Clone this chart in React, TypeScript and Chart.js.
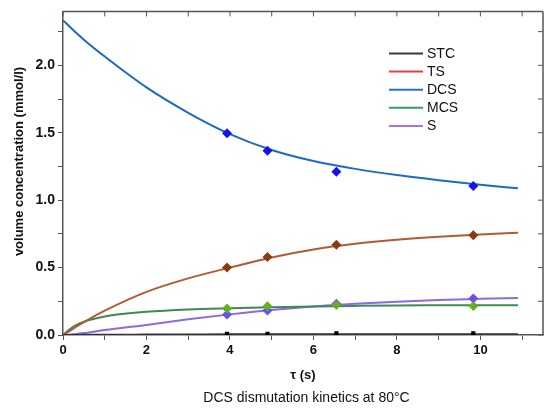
import React, { useEffect, useRef } from "react";
import { Chart, registerables } from "chart.js";

Chart.register(...registerables);

const curveX = [0, 0.25, 0.5, 1, 2, 3, 4, 5, 6, 7, 8, 9, 10, 10.9];
const dcsCurve = [2.335, 2.26, 2.19, 2.065, 1.836, 1.648, 1.49, 1.372, 1.29, 1.232, 1.186, 1.148, 1.114, 1.088];
const tsCurve = [0, 0.048, 0.095, 0.18, 0.32, 0.42, 0.5, 0.575, 0.634, 0.676, 0.706, 0.728, 0.745, 0.758];
const mcsCurve = [0, 0.062, 0.098, 0.138, 0.172, 0.19, 0.199, 0.206, 0.212, 0.216, 0.219, 0.22, 0.221, 0.221];
const sCurve = [0, 0.006, 0.014, 0.037, 0.075, 0.116, 0.153, 0.186, 0.212, 0.232, 0.247, 0.259, 0.268, 0.275];
const stcCurve = [0, 0.0005, 0.001, 0.002, 0.003, 0.004, 0.005, 0.005, 0.006, 0.006, 0.006, 0.006, 0.006, 0.006];

const sampleX = [3.93, 4.9, 6.55, 9.83];
const dcsPts = [1.497, 1.366, 1.21, 1.105];
const tsPts = [0.5, 0.578, 0.669, 0.74];
const mcsPts = [0.197, 0.214, 0.222, 0.216];
const sPts = [0.152, 0.182, 0.231, 0.27];
const stcPts = [0.008, 0.008, 0.012, 0.012];

const legendNames = ["STC", "TS", "DCS", "MCS", "S"];
const legendColors = ["#3a3a3a", "#e84040", "#2a6fd0", "#2ca065", "#b070e0"];

const xTicks = [0, 1, 2, 3, 4, 5, 6, 7, 8, 9, 10, 11];
const yTicks = [0, 0.25, 0.5, 0.75, 1, 1.25, 1.5, 1.75, 2, 2.25];

const yTitle = "volume concentration (mmol/l)";
const xTitle = "\u03c4 (s)";
const caption = "DCS dismutation kinetics at 80\u00b0C";

const FONT = "'Liberation Sans', Arial, sans-serif";

const zip = (xs: number[], ys: number[]) => xs.map((x, i) => ({ x, y: ys[i] }));

const lineDs = (label: string, ys: number[], color: string) => ({
  label,
  data: zip(curveX, ys),
  showLine: true,
  borderColor: color,
  backgroundColor: color,
  borderWidth: 2,
  pointRadius: 0,
  cubicInterpolationMode: "monotone" as const,
  fill: false,
});

const ptDs = (label: string, ys: number[], color: string, style: string, r: number) => ({
  label,
  data: zip(sampleX, ys),
  showLine: false,
  pointStyle: style,
  pointRadius: r,
  borderWidth: 0,
  backgroundColor: color,
  borderColor: color,
});

const decorPlugin = {
  id: "decor",
  afterDraw(chart: any) {
    const { ctx, chartArea: a, scales } = chart;
    const xs = scales.x;
    const ys = scales.y;
    ctx.save();
    ctx.strokeStyle = "#555";
    ctx.lineWidth = 1.5;
    ctx.beginPath();
    ctx.moveTo(a.left, a.top);
    ctx.lineTo(a.right, a.top);
    ctx.moveTo(a.right, a.top);
    ctx.lineTo(a.right, a.bottom);
    ctx.stroke();
    ctx.lineWidth = 1;
    ctx.beginPath();
    xTicks.forEach((v) => {
      const px = xs.getPixelForValue(v);
      ctx.moveTo(px, a.top);
      ctx.lineTo(px, a.top + 5);
    });
    yTicks.forEach((v) => {
      const py = ys.getPixelForValue(v);
      ctx.moveTo(a.right, py);
      ctx.lineTo(a.right - 5, py);
    });
    ctx.stroke();

    // legend
    ctx.font = `14px ${FONT}`;
    ctx.textBaseline = "middle";
    ctx.textAlign = "left";
    legendNames.forEach((n, i) => {
      const y = 53.5 + i * 18.1;
      ctx.strokeStyle = legendColors[i];
      ctx.lineWidth = 2;
      ctx.beginPath();
      ctx.moveTo(389, y);
      ctx.lineTo(423, y);
      ctx.stroke();
      ctx.fillStyle = "#111";
      ctx.fillText(n, 427, y + 0.5);
    });

    // y title
    ctx.save();
    ctx.translate(19, 161.5);
    ctx.rotate(-Math.PI / 2);
    ctx.font = `bold 13px ${FONT}`;
    ctx.textAlign = "center";
    ctx.textBaseline = "middle";
    ctx.fillStyle = "#111";
    ctx.fillText(yTitle, 0, 0);
    ctx.restore();

    // caption
    ctx.font = `14px ${FONT}`;
    ctx.textAlign = "center";
    ctx.textBaseline = "middle";
    ctx.fillStyle = "#111";
    ctx.fillText(caption, 306.5, 398);
    ctx.restore();
  },
};

export default function App() {
  const ref = useRef<HTMLCanvasElement>(null);
  useEffect(() => {
    if (!ref.current) return;
    const chart = new Chart(ref.current, {
      type: "scatter",
      data: {
        datasets: [
          ptDs("STC pts", stcPts, "#000000", "rect", 3),
          ptDs("TS pts", tsPts, "#8b3a12", "rectRot", 5),
          ptDs("DCS pts", dcsPts, "#1414e6", "rectRot", 5),
          ptDs("MCS pts", mcsPts, "#66b01e", "rectRot", 5),
          ptDs("S pts", sPts, "#6a4ff0", "rectRot", 5),
          lineDs("STC", stcCurve, "#333333"),
          lineDs("TS", tsCurve, "#b45a32"),
          lineDs("DCS", dcsCurve, "#1b6ac9"),
          lineDs("MCS", mcsCurve, "#3d8a55"),
          lineDs("S", sCurve, "#8d68e8"),
        ] as any,
      },
      options: {
        animation: false,
        responsive: true,
        maintainAspectRatio: false,
        layout: { padding: { top: 7.5, right: 7, left: 0, bottom: 28 } },
        plugins: {
          legend: { display: false },
          tooltip: { enabled: false },
          title: { display: false },
        },
        scales: {
          x: {
            type: "linear",
            min: 0,
            max: 11.5,
            afterBuildTicks: (s: any) => {
              s.ticks = xTicks.map((v) => ({ value: v }));
            },
            afterFit: (s: any) => {
              s.height = 48;
            },
            grid: {
              display: true,
              drawOnChartArea: false,
              drawTicks: true,
              tickLength: 5,
              color: "#555",
            },
            border: { display: true, color: "#555", width: 1.5 },
            ticks: {
              autoSkip: false,
              maxRotation: 0,
              padding: 3,
              color: "#111",
              font: { family: FONT, size: 13, weight: "bold" },
              callback: (v: any) => (Number(v) % 2 === 0 ? String(v) : ""),
            },
            title: {
              display: true,
              text: xTitle,
              color: "#111",
              font: { family: FONT, size: 13, weight: "bold" },
              padding: { top: 8, bottom: 0 },
            },
          },
          y: {
            type: "linear",
            min: 0,
            max: 2.4,
            afterBuildTicks: (s: any) => {
              s.ticks = yTicks.map((v) => ({ value: v }));
            },
            afterFit: (s: any) => {
              s.width = 63;
            },
            grid: {
              display: true,
              drawOnChartArea: false,
              drawTicks: true,
              tickLength: 5,
              color: "#555",
            },
            border: { display: true, color: "#555", width: 1.5 },
            ticks: {
              autoSkip: false,
              padding: 3,
              color: "#111",
              font: { family: FONT, size: 14, weight: "bold" },
              callback: (v: any) => {
                const n = Number(v);
                return Math.abs(n * 2 - Math.round(n * 2)) < 1e-6 ? n.toFixed(1) : "";
              },
            },
          },
        },
      },
      plugins: [decorPlugin],
    });
    return () => chart.destroy();
  }, []);
  return (
    <div style={{ position: "fixed", left: 0, top: 0, width: 550, height: 411, background: "#fff" }}>
      <canvas ref={ref} />
    </div>
  );
}
